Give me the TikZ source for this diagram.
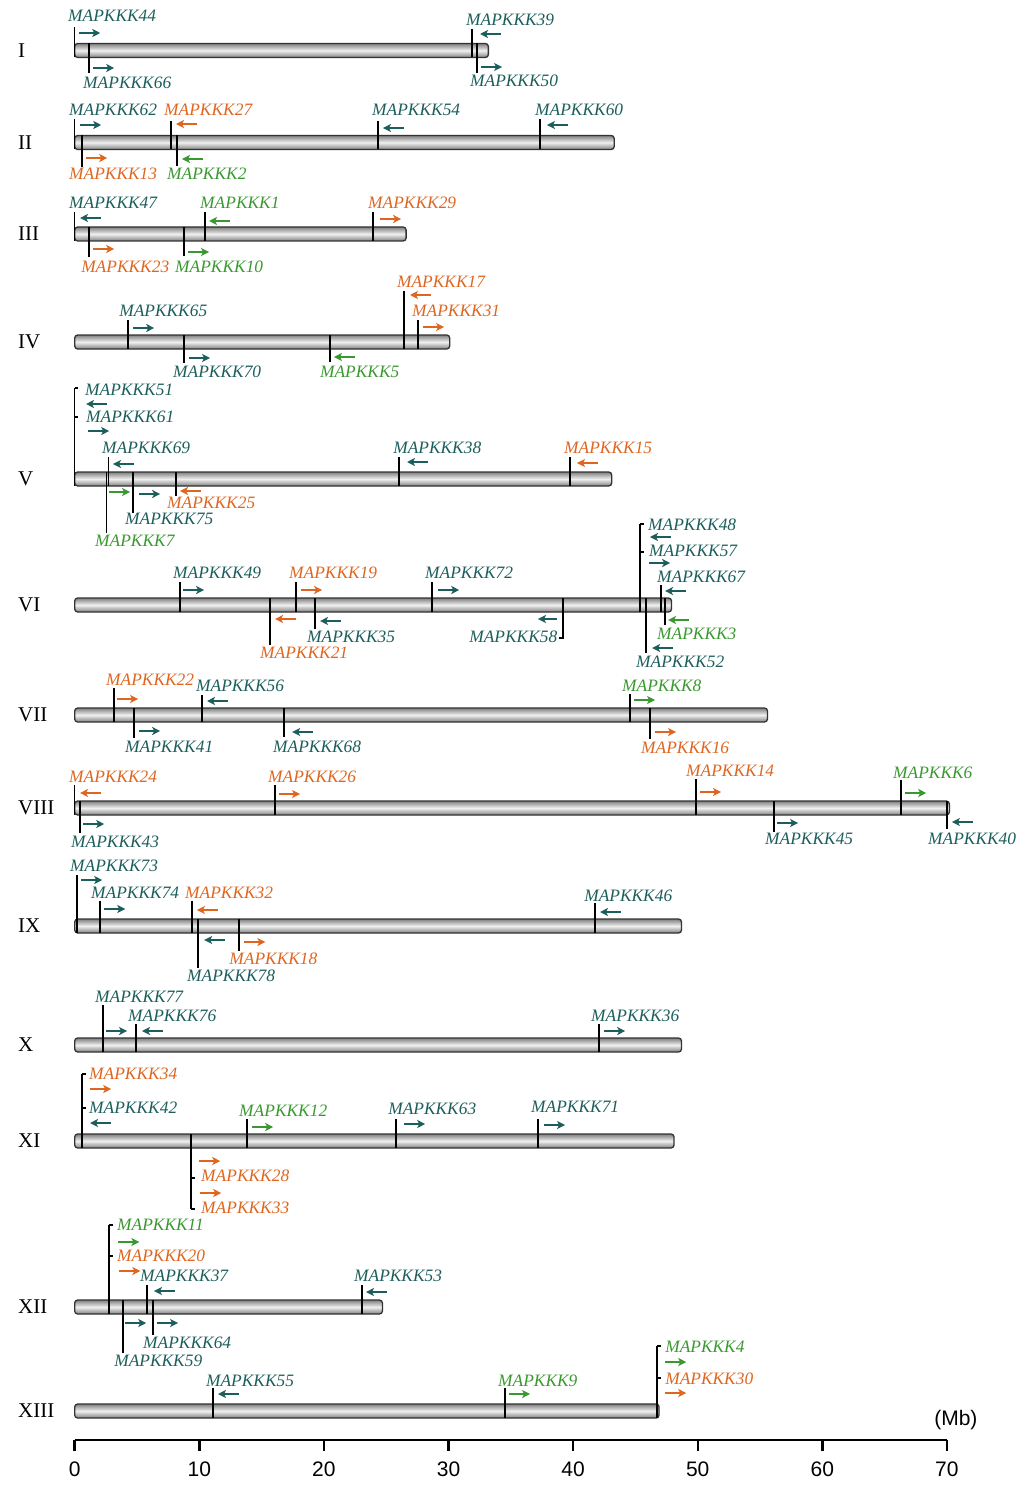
\documentclass[tikz,border=0pt]{standalone}
\usepackage{fontspec}
\setmainfont{Liberation Serif}
\newfontfamily\axisfont{Liberation Sans}
\usetikzlibrary{arrows.meta}
\definecolor{kteal}{RGB}{28,94,92}
\definecolor{korange}{RGB}{222,102,32}
\definecolor{kgreen}{RGB}{58,152,48}

\tikzset{
  bar/.style={draw=black!80, line width=1.3pt, rounded corners=3pt,
    top color=black!50, bottom color=black!50, middle color=black!6},
  tk/.style={line width=1.5pt, black},
  ar/.style={line width=2pt},
  lbl/.style={anchor=west, inner sep=0pt, font=\fontsize{17.4}{18}\selectfont\itshape},
  rom/.style={anchor=west, inner sep=0pt, font=\fontsize{21}{22}\selectfont},
  axl/.style={inner sep=0pt, font=\axisfont\fontsize{21}{22}\selectfont},
  >={Stealth[length=8pt,width=8pt,inset=2pt]}
}

% gene: number, position (Mb), tick end, colour, arrow, arrow x, arrow y, label x, label y
\newcommand{\gene}[9]{%
  \draw[tk] (#2,\cy-7) -- (#2,\cy+7) (#2,\cy) -- (#2,#3);
  \draw[ar,#4,#5] (#6,#7) -- ++(1.7,0);
  \node[lbl,text=#4] (g#1) at (#8,#9) {MAPKKK#1};
}

\begin{document}
\begin{tikzpicture}[x=12.46pt, y=-1pt]
    \useasboundingbox (-5.995,0) rectangle (76.19,1487);

    % chromosomes
    \foreach \chrname/\ry/\cl in {I/50.5/33.2, II/142.5/43.3, III/234/26.6, IV/342/30.1,
        V/479/43.1, VI/605/47.9, VII/715/55.6, VIII/808/70.2, IX/926/48.7,
        X/1045/48.7, XI/1141/48.1, XII/1307/24.7, XIII/1411/46.9}{
        \node[rom] (chr\chrname) at (-4.55,\ry) {\chrname};
        \draw[bar] (0,\ry-7) rectangle (\cl,\ry+7);
    }

    % I
    \def\cy{50.5}
    \gene{44}{0}{27}{kteal}{->}{0.35}{33}{-0.54}{16}
    \gene{66}{1.15}{73}{kteal}{->}{1.47}{68}{0.67}{83}
    \gene{39}{31.89}{29}{kteal}{<-}{32.53}{34}{31.4}{20}
    \gene{50}{32.29}{73}{kteal}{->}{32.6}{67}{31.72}{81}

    % II
    \def\cy{142.5}
    \gene{62}{0}{119}{kteal}{->}{0.43}{125}{-0.46}{110}
    \gene{13}{0.59}{167}{korange}{->}{0.91}{158}{-0.46}{174}
    \gene{27}{7.73}{121}{korange}{<-}{8.13}{124}{7.17}{110}
    \gene{2}{8.21}{166}{kgreen}{<-}{8.61}{159}{7.41}{174}
    \gene{54}{24.34}{121}{kteal}{<-}{24.74}{128}{23.86}{110}
    \gene{60}{37.34}{119}{kteal}{<-}{37.9}{125}{36.94}{110}

    % III
    \def\cy{234}
    \gene{47}{0}{212}{kteal}{<-}{0.43}{218}{-0.46}{203}
    \gene{23}{1.15}{257}{korange}{->}{1.47}{249}{0.51}{267}
    \gene{10}{8.77}{256}{kgreen}{->}{9.09}{252}{8.05}{267}
    \gene{1}{10.46}{212}{kgreen}{<-}{10.78}{221}{10.06}{203}
    \gene{29}{23.94}{212}{korange}{->}{24.5}{219}{23.54}{203}

    % IV
    \def\cy{342}
    \gene{65}{4.28}{320}{kteal}{->}{4.68}{328}{3.56}{311}
    \gene{70}{8.77}{363}{kteal}{->}{9.17}{358}{7.89}{372}
    \gene{5}{20.49}{362}{kgreen}{<-}{20.81}{357}{19.68}{372}
    \gene{17}{26.43}{291}{korange}{<-}{26.91}{295}{25.86}{282}
    \gene{31}{27.55}{320}{korange}{->}{27.95}{327}{27.07}{311}

    % V
    \def\cy{479}
    \gene{51}{0}{388}{kteal}{<-}{0.91}{404}{0.83}{390}
    \gene{61}{0}{388}{kteal}{->}{1.07}{431}{0.91}{417}
    \draw[tk] (0,388) -- ++(0.3,0) (0,417) -- ++(0.3,0);
    \gene{69}{2.71}{457}{kteal}{<-}{3.07}{464}{2.19}{448}
    \gene{7}{2.55}{533}{kgreen}{->}{2.75}{492}{1.63}{541}
    \gene{75}{4.68}{513}{kteal}{->}{5.16}{494}{4.04}{519}
    \gene{25}{8.13}{496}{korange}{<-}{8.45}{491}{7.41}{503}
    \gene{38}{26.03}{457}{kteal}{<-}{26.67}{462}{25.55}{448}
    \gene{15}{39.75}{457}{korange}{<-}{40.31}{463}{39.27}{448}

    % VI
    \def\cy{605}
    \gene{49}{8.45}{582}{kteal}{->}{8.69}{590}{7.89}{573}
    \gene{21}{15.67}{645}{korange}{<-}{16.08}{619}{14.87}{653}
    \gene{19}{17.76}{582}{korange}{->}{18.16}{590}{17.2}{573}
    \gene{35}{19.29}{629}{kteal}{<-}{19.69}{621}{18.64}{637}
    \gene{72}{28.68}{582}{kteal}{->}{29.16}{590}{28.11}{573}
    \draw[tk] (39.19,\cy-7) -- (39.19,638) -- ++(-0.35,0);
    \draw[ar,kteal,<-] (37.18,619) -- ++(1.55,0);
    \node[lbl,text=kteal,anchor=east] (g58) at (38.75,637) {MAPKKK58};
    \gene{48}{45.37}{524}{kteal}{<-}{46.17}{537}{46.01}{525}
    \gene{57}{45.37}{524}{kteal}{->}{46.09}{563}{46.09}{551}
    \draw[tk] (45.37,524) -- ++(0.3,0) (45.37,552) -- ++(0.3,0);
    \gene{52}{45.85}{653}{kteal}{<-}{46.34}{648}{45.05}{662}
    \gene{67}{47.04}{585}{kteal}{<-}{47.38}{591}{46.73}{577}
    \gene{3}{47.37}{625}{kgreen}{<-}{47.62}{620}{46.73}{634}

    % VII
    \def\cy{715}
    \gene{22}{3.15}{688}{korange}{->}{3.39}{699}{2.51}{680}
    \gene{41}{4.76}{738}{kteal}{->}{5.16}{731}{4.04}{747}
    \gene{56}{10.22}{695}{kteal}{<-}{10.62}{701}{9.73}{686}
    \gene{68}{16.8}{737}{kteal}{<-}{17.45}{732}{15.91}{747}
    \gene{8}{44.57}{694}{kgreen}{->}{44.88}{700}{43.92}{686}
    \gene{16}{46.17}{739}{korange}{->}{46.57}{732}{45.45}{748}

    % VIII
    \def\cy{808}
    \gene{24}{0}{785}{korange}{<-}{0.43}{793}{-0.46}{777}
    \gene{43}{0.43}{833}{kteal}{->}{0.67}{824}{-0.3}{842}
    \gene{26}{16.07}{785}{korange}{->}{16.39}{794}{15.51}{777}
    \gene{14}{49.86}{779}{korange}{->}{50.18}{792}{49.06}{771}
    \gene{45}{56.12}{832}{kteal}{->}{56.36}{823}{55.4}{839}
    \gene{6}{66.32}{780}{kgreen}{->}{66.64}{793}{65.67}{773}
    \gene{40}{70.0}{829}{kteal}{<-}{70.4}{822}{68.48}{839}

    % IX
    \def\cy{926}
    \gene{73}{0.18}{875}{kteal}{->}{0.51}{880}{-0.38}{866}
    \gene{74}{2.03}{901}{kteal}{->}{2.36}{909}{1.31}{893}
    \gene{32}{9.41}{901}{korange}{<-}{9.81}{910}{8.85}{893}
    \gene{78}{9.89}{968}{kteal}{<-}{10.39}{940}{9.01}{976}
    \gene{18}{13.19}{951}{korange}{->}{13.6}{942}{12.4}{959}
    \gene{46}{41.76}{903}{kteal}{<-}{42.16}{912}{40.88}{896}

    % X
    \def\cy{1045}
    \gene{77}{2.27}{1005}{kteal}{->}{2.51}{1031}{1.63}{997}
    \gene{76}{4.92}{1024}{kteal}{<-}{5.4}{1031}{4.28}{1016}
    \gene{36}{42.08}{1024}{kteal}{->}{42.48}{1031}{41.44}{1016}

    % XI
    \def\cy{1141}
    \gene{34}{0.59}{1074}{korange}{->}{1.23}{1089}{1.15}{1074}
    \gene{42}{0.59}{1074}{kteal}{<-}{1.23}{1123}{1.15}{1108}
    \draw[tk] (0.59,1074) -- ++(0.3,0) (0.59,1108) -- ++(0.3,0);
    \gene{28}{9.35}{1209}{korange}{->}{9.98}{1161}{10.14}{1176}
    \gene{33}{9.35}{1209}{korange}{->}{10.06}{1193}{10.14}{1208}
    \draw[tk] (9.35,1178) -- ++(0.3,0) (9.35,1209) -- ++(0.3,0);
    \gene{12}{13.83}{1119}{kgreen}{->}{14.23}{1127}{13.19}{1111}
    \gene{63}{25.79}{1119}{kteal}{->}{26.43}{1124}{25.15}{1109}
    \gene{71}{37.18}{1119}{kteal}{->}{37.66}{1125}{36.62}{1107}

    % XII
    \def\cy{1307}
    \gene{11}{2.75}{1225}{kgreen}{->}{3.49}{1242}{3.39}{1225}
    \gene{20}{2.75}{1225}{korange}{->}{3.57}{1271}{3.39}{1256}
    \draw[tk] (2.75,1225) -- ++(0.3,0) (2.75,1256) -- ++(0.3,0);
    \gene{59}{3.88}{1353}{kteal}{->}{4.04}{1323}{3.16}{1361}
    \gene{37}{5.8}{1285}{kteal}{<-}{6.36}{1291}{5.24}{1276}
    \gene{64}{6.28}{1335}{kteal}{->}{6.6}{1323}{5.48}{1343}
    \gene{53}{23.06}{1285}{kteal}{<-}{23.38}{1292}{22.41}{1276}

    % XIII
    \def\cy{1411}
    \gene{55}{11.1}{1388}{kteal}{<-}{11.5}{1394}{10.53}{1381}
    \gene{9}{34.53}{1388}{kgreen}{->}{34.85}{1394}{33.97}{1381}
    \gene{4}{46.73}{1346}{kgreen}{->}{47.38}{1362}{47.38}{1347}
    \gene{30}{46.73}{1346}{korange}{->}{47.38}{1393}{47.38}{1379}
    \draw[tk] (46.73,1346) -- ++(0.3,0) (46.73,1378) -- ++(0.3,0);

    % scale
    \draw[line width=2.6pt] (0,1440) -- (70,1440);
    \foreach \t in {0,10,...,70}{
        \draw[line width=2.4pt] (\t,1440) -- (\t,1451);
        \node[axl] (t\t) at (\t,1469) {\t};
    }
    \node[axl] (mb) at (70.72,1420) {(Mb)};
\end{tikzpicture}
\end{document}
